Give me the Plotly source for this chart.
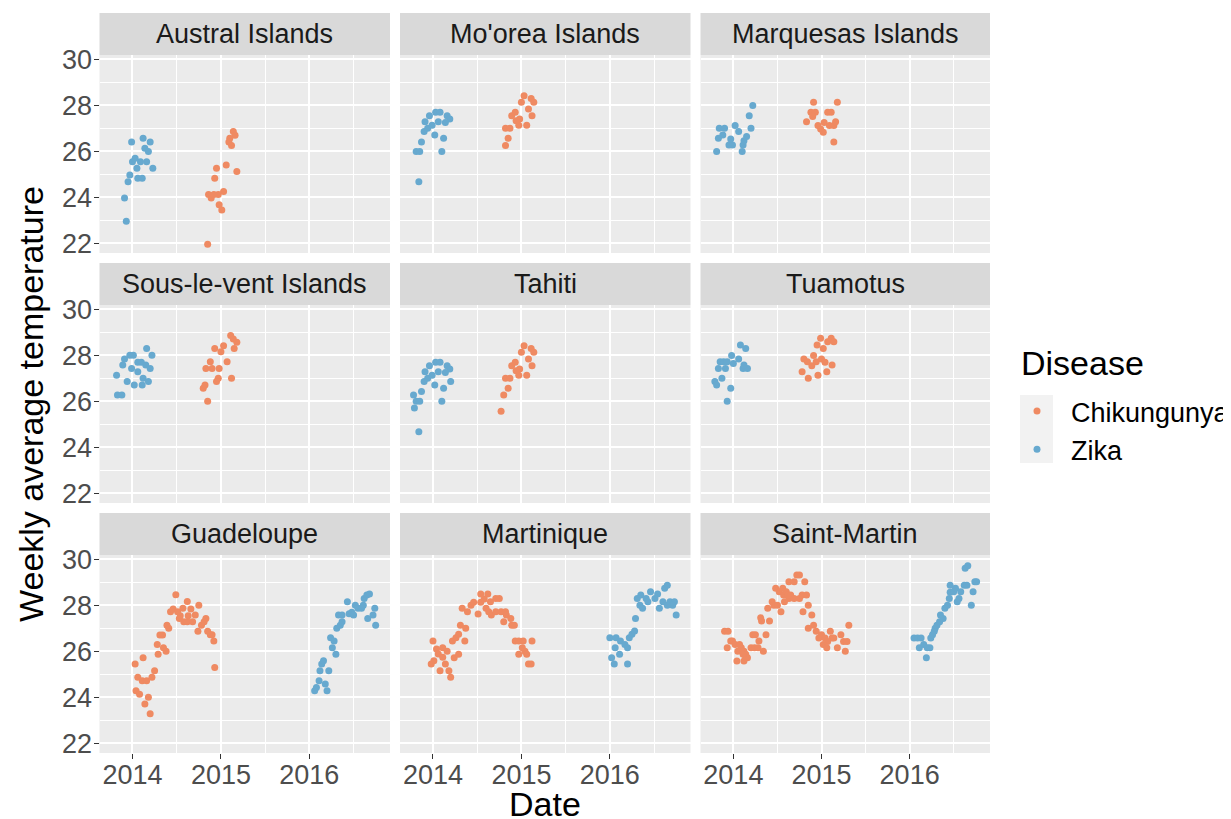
import plotly.graph_objects as go

# ---------------- data ----------------
regions = ["Austral Islands", "Mo'orea Islands", "Marquesas Islands",
           "Sous-le-vent Islands", "Tahiti", "Tuamotus",
           "Guadeloupe", "Martinique", "Saint-Martin"]
diseases = ["Chikungunya", "Zika"]
year_ticks = [2014, 2015, 2016]
temp_ticks = [22, 24, 26, 28, 30]

austral_chik_date = [2015.14, 2015.16, 2015.10, 2015.09, 2015.12, 2014.95, 2015.06, 2015.18, 2014.93, 2015.03, 2014.97, 2014.86, 2014.89, 2014.92, 2014.98, 2015.01, 2014.85]
austral_chik_temp = [26.86, 26.70, 26.57, 26.41, 26.26, 25.26, 25.41, 25.12, 24.83, 24.25, 24.12, 24.12, 23.97, 24.12, 23.68, 23.45, 21.96]
austral_zika_date = [2013.99, 2014.12, 2014.20, 2014.14, 2014.18, 2014.03, 2014.00, 2014.09, 2014.16, 2014.05, 2014.23, 2013.97, 2014.06, 2014.11, 2013.95, 2013.91, 2013.93]
austral_zika_temp = [26.41, 26.57, 26.41, 26.13, 25.99, 25.70, 25.55, 25.55, 25.55, 25.26, 25.26, 24.97, 24.83, 24.83, 24.68, 23.97, 22.96]

moorea_chik_date = [2014.82, 2014.85, 2014.82, 2014.87, 2014.97, 2015.06, 2014.89, 2014.93, 2014.98, 2015.12, 2015.08, 2015.00, 2015.03, 2015.11, 2015.14, 2014.94]
moorea_chik_temp = [26.26, 26.57, 27.00, 27.00, 27.14, 27.14, 27.55, 27.70, 27.41, 27.55, 27.84, 28.13, 28.42, 28.30, 28.13, 27.33]
moorea_zika_date = [2013.84, 2013.81, 2013.85, 2014.10, 2013.87, 2014.02, 2014.12, 2013.90, 2013.94, 2013.99, 2013.91, 2013.96, 2014.03, 2014.08, 2014.06, 2014.16, 2014.19, 2014.14]
moorea_zika_temp = [24.68, 25.99, 25.99, 25.99, 26.41, 26.71, 26.57, 26.86, 27.00, 27.14, 27.29, 27.55, 27.70, 27.70, 27.29, 27.55, 27.41, 27.26]

marquesas_chik_date = [2014.91, 2015.18, 2014.88, 2014.93, 2015.07, 2015.11, 2014.90, 2014.83, 2014.96, 2015.03, 2015.09, 2015.14, 2015.16, 2014.99, 2015.02, 2015.14]
marquesas_chik_temp = [28.13, 28.13, 27.70, 27.70, 27.70, 27.70, 27.52, 27.29, 27.12, 27.26, 27.12, 27.12, 27.29, 26.97, 26.83, 26.41]
marquesas_zika_date = [2013.81, 2014.10, 2013.83, 2013.84, 2013.90, 2013.88, 2013.95, 2013.99, 2014.02, 2014.06, 2013.97, 2014.11, 2014.12, 2014.15, 2014.20, 2014.18, 2014.22]
marquesas_zika_temp = [25.99, 25.99, 26.57, 27.00, 27.00, 26.71, 26.28, 26.28, 27.12, 26.86, 26.54, 26.28, 26.46, 26.65, 27.00, 27.55, 27.99]

sous_chik_date = [2014.85, 2014.80, 2014.82, 2014.95, 2014.97, 2015.12, 2014.83, 2014.90, 2014.98, 2014.88, 2015.07, 2014.93, 2015.00, 2015.03, 2015.15, 2015.11, 2015.14, 2015.18]
sous_chik_temp = [26.00, 26.57, 26.71, 26.86, 27.00, 27.00, 27.43, 27.43, 27.43, 27.72, 27.72, 28.30, 28.16, 28.42, 28.30, 28.86, 28.71, 28.57]
sous_zika_date = [2013.82, 2013.83, 2013.88, 2014.16, 2014.22, 2013.97, 2014.01, 2013.91, 2013.89, 2013.99, 2014.06, 2014.10, 2014.15, 2014.20, 2014.06, 2013.94, 2014.02, 2014.11, 2014.12, 2014.18]
sous_zika_temp = [27.14, 26.28, 26.28, 28.30, 28.01, 28.01, 28.01, 27.84, 27.58, 27.43, 27.70, 27.70, 27.58, 27.43, 27.29, 26.86, 26.71, 26.71, 27.00, 26.86]

tahiti_chik_date = [2014.77, 2014.80, 2014.85, 2014.82, 2014.87, 2014.97, 2015.06, 2014.89, 2014.93, 2014.98, 2015.12, 2015.08, 2015.00, 2015.03, 2015.11, 2015.14, 2014.94]
tahiti_chik_temp = [25.57, 26.28, 26.57, 27.00, 27.00, 27.14, 27.14, 27.55, 27.70, 27.41, 27.55, 27.84, 28.13, 28.42, 28.30, 28.13, 27.33]
tahiti_zika_date = [2013.84, 2013.79, 2013.81, 2013.85, 2013.78, 2013.87, 2014.10, 2014.02, 2014.12, 2014.20, 2013.90, 2013.94, 2013.99, 2013.91, 2013.96, 2014.03, 2014.08, 2014.06, 2014.16, 2014.19, 2014.14]
tahiti_zika_temp = [24.68, 25.71, 26.00, 26.00, 26.28, 26.43, 26.00, 26.71, 26.57, 26.86, 26.86, 27.00, 27.14, 27.29, 27.55, 27.70, 27.70, 27.29, 27.55, 27.41, 27.26]

tuamotus_chik_date = [2014.78, 2014.85, 2014.96, 2015.06, 2014.80, 2014.84, 2014.89, 2014.91, 2014.94, 2015.00, 2015.04, 2015.12, 2015.02, 2014.95, 2014.99, 2015.07, 2015.11, 2015.14]
tuamotus_chik_temp = [27.29, 27.00, 27.14, 27.29, 27.84, 27.72, 27.55, 27.99, 27.72, 27.84, 27.70, 27.58, 28.30, 28.45, 28.74, 28.59, 28.74, 28.59]
tuamotus_zika_date = [2013.93, 2013.97, 2013.79, 2013.81, 2013.87, 2013.83, 2013.91, 2013.85, 2013.89, 2013.93, 2014.00, 2013.98, 2014.06, 2014.08, 2014.14, 2014.11, 2014.16, 2014.12]
tuamotus_zika_temp = [26.00, 26.57, 26.86, 26.71, 27.00, 27.43, 27.43, 27.72, 27.72, 27.72, 27.65, 27.99, 27.84, 28.45, 28.30, 27.43, 27.43, 27.58]

guadeloupe_chik_date = [2014.03, 2014.12, 2014.06, 2014.11, 2014.16, 2014.22, 2014.25, 2014.04, 2014.08, 2014.18, 2014.14, 2014.20, 2014.29, 2014.28, 2014.35, 2014.38, 2014.31, 2014.34, 2014.39, 2014.41, 2014.43, 2014.46, 2014.49, 2014.51, 2014.54, 2014.57, 2014.53, 2014.58, 2014.62, 2014.62, 2014.66, 2014.68, 2014.71, 2014.75, 2014.63, 2014.74, 2014.78, 2014.83, 2014.81, 2014.85, 2014.88, 2014.90, 2014.92, 2014.93]
guadeloupe_chik_temp = [25.45, 25.72, 24.87, 24.72, 24.72, 24.87, 25.16, 24.29, 24.14, 24.00, 23.71, 23.29, 25.87, 26.30, 26.16, 26.01, 26.71, 26.71, 27.14, 27.00, 27.72, 27.84, 28.46, 27.72, 27.55, 27.87, 27.43, 27.29, 27.29, 28.17, 27.84, 27.29, 27.58, 28.01, 27.55, 26.87, 27.14, 27.43, 27.29, 26.87, 26.72, 26.72, 26.45, 25.30]
guadeloupe_zika_date = [2016.06, 2016.08, 2016.11, 2016.18, 2016.20, 2016.12, 2016.14, 2016.16, 2016.22, 2016.30, 2016.26, 2016.24, 2016.28, 2016.31, 2016.35, 2016.37, 2016.33, 2016.37, 2016.43, 2016.45, 2016.48, 2016.50, 2016.52, 2016.55, 2016.59, 2016.61, 2016.62, 2016.65, 2016.68, 2016.74, 2016.66, 2016.72, 2016.75]
guadeloupe_zika_temp = [24.29, 24.43, 24.72, 24.58, 24.29, 25.16, 25.45, 25.59, 25.16, 25.87, 26.16, 26.59, 26.45, 27.00, 27.14, 27.29, 27.58, 27.58, 28.16, 27.64, 27.70, 27.58, 28.01, 27.87, 27.87, 28.01, 28.30, 28.45, 28.49, 27.87, 27.43, 27.58, 27.14]

martinique_chik_date = [2014.00, 2014.04, 2014.11, 2014.16, 2014.06, 2014.11, 2014.01, 2013.98, 2014.14, 2014.18, 2014.20, 2014.08, 2014.24, 2014.29, 2014.22, 2014.26, 2014.29, 2014.36, 2014.31, 2014.37, 2014.33, 2014.39, 2014.43, 2014.46, 2014.51, 2014.54, 2014.58, 2014.54, 2014.62, 2014.60, 2014.63, 2014.65, 2014.71, 2014.75, 2014.66, 2014.71, 2014.77, 2014.82, 2014.83, 2014.80, 2014.88, 2014.89, 2014.92, 2014.93, 2014.97, 2015.02, 2015.12, 2015.01, 2015.04, 2014.97, 2015.06, 2015.08, 2015.11]
martinique_chik_temp = [26.45, 26.10, 26.16, 26.01, 25.88, 25.74, 25.59, 25.45, 25.45, 25.16, 24.87, 25.16, 25.72, 25.87, 26.45, 26.59, 26.74, 26.45, 27.14, 27.00, 27.87, 27.72, 28.01, 28.13, 27.62, 28.13, 28.28, 28.49, 28.49, 27.87, 27.72, 28.16, 28.30, 28.30, 27.58, 27.72, 27.72, 27.72, 27.58, 27.29, 27.43, 27.14, 27.14, 26.45, 26.45, 26.45, 26.45, 26.16, 26.01, 25.87, 25.87, 25.45, 25.45]
martinique_zika_date = [2016.00, 2016.07, 2016.12, 2016.17, 2016.20, 2016.06, 2016.11, 2016.02, 2016.05, 2016.20, 2016.22, 2016.25, 2016.28, 2016.29, 2016.31, 2016.35, 2016.34, 2016.37, 2016.41, 2016.43, 2016.46, 2016.51, 2016.56, 2016.54, 2016.60, 2016.62, 2016.65, 2016.68, 2016.73, 2016.75, 2016.71, 2016.65]
martinique_zika_temp = [26.59, 26.59, 26.45, 26.30, 26.16, 26.16, 25.87, 25.72, 25.45, 25.45, 26.59, 26.74, 26.88, 27.43, 28.30, 28.45, 28.01, 27.87, 28.30, 28.16, 28.59, 28.30, 27.87, 28.49, 28.16, 28.74, 28.88, 28.16, 28.16, 27.58, 28.01, 28.01]

stmartin_chik_date = [2013.90, 2013.94, 2013.93, 2013.97, 2013.99, 2014.02, 2014.07, 2014.09, 2014.12, 2014.14, 2014.16, 2014.04, 2014.12, 2014.14, 2014.05, 2014.11, 2014.20, 2014.24, 2014.28, 2014.34, 2014.29, 2014.22, 2014.25, 2014.37, 2014.32, 2014.31, 2014.41, 2014.39, 2014.44, 2014.46, 2014.50, 2014.54, 2014.48, 2014.52, 2014.56, 2014.57, 2014.60, 2014.62, 2014.63, 2014.58, 2014.65, 2014.69, 2014.75, 2014.78, 2014.83, 2014.63, 2014.69, 2014.72, 2014.75, 2014.81, 2014.85, 2014.79, 2014.89, 2014.85, 2014.91, 2014.94, 2014.97, 2015.00, 2015.04, 2015.10, 2015.12, 2015.07, 2015.02, 2015.06, 2015.18, 2015.22, 2015.25, 2015.29, 2015.27, 2015.31, 2015.14]
stmartin_chik_temp = [26.87, 26.87, 26.16, 26.45, 26.45, 26.30, 26.30, 26.16, 26.01, 25.87, 25.72, 25.58, 25.58, 25.72, 26.01, 25.87, 26.16, 26.16, 26.16, 26.01, 26.45, 26.72, 26.72, 26.72, 27.32, 27.46, 27.32, 27.87, 28.16, 28.01, 28.01, 27.72, 28.74, 28.59, 28.74, 28.45, 28.59, 28.45, 28.30, 28.16, 28.45, 28.30, 28.30, 28.45, 28.45, 29.03, 29.03, 29.32, 29.32, 29.03, 28.01, 27.72, 27.58, 27.01, 27.14, 26.87, 26.58, 26.72, 26.58, 26.87, 26.58, 26.43, 26.30, 26.16, 26.16, 26.72, 26.43, 26.43, 26.01, 27.14, 26.58]
stmartin_zika_date = [2016.05, 2016.09, 2016.13, 2016.11, 2016.16, 2016.20, 2016.19, 2016.23, 2016.24, 2016.26, 2016.28, 2016.29, 2016.31, 2016.34, 2016.35, 2016.38, 2016.40, 2016.43, 2016.45, 2016.46, 2016.46, 2016.50, 2016.52, 2016.54, 2016.56, 2016.58, 2016.62, 2016.65, 2016.72, 2016.74, 2016.76, 2016.70, 2016.63, 2016.66]
stmartin_zika_temp = [26.58, 26.58, 26.58, 26.16, 26.30, 26.16, 25.72, 26.16, 26.58, 26.72, 26.87, 27.01, 27.14, 27.29, 27.58, 27.43, 27.87, 28.01, 28.30, 28.57, 28.88, 28.59, 28.74, 28.16, 28.30, 28.59, 28.88, 28.88, 28.59, 29.03, 29.03, 28.01, 29.61, 29.72]

panel_series = [
    (austral_chik_date, austral_chik_temp, austral_zika_date, austral_zika_temp),
    (moorea_chik_date, moorea_chik_temp, moorea_zika_date, moorea_zika_temp),
    (marquesas_chik_date, marquesas_chik_temp, marquesas_zika_date, marquesas_zika_temp),
    (sous_chik_date, sous_chik_temp, sous_zika_date, sous_zika_temp),
    (tahiti_chik_date, tahiti_chik_temp, tahiti_zika_date, tahiti_zika_temp),
    (tuamotus_chik_date, tuamotus_chik_temp, tuamotus_zika_date, tuamotus_zika_temp),
    (guadeloupe_chik_date, guadeloupe_chik_temp, guadeloupe_zika_date, guadeloupe_zika_temp),
    (martinique_chik_date, martinique_chik_temp, martinique_zika_date, martinique_zika_temp),
    (stmartin_chik_date, stmartin_chik_temp, stmartin_zika_date, stmartin_zika_temp),
]

# ---------------- styling ----------------
W, H = 1231, 819
PAGE_OFFSET = 8  # default body margin of the html page
FONT = "Liberation Sans, Arial, sans-serif"
COLORS = {"Chikungunya": "#EF8A62", "Zika": "#67A9CF"}
col_px = [(99.5, 390), (400, 690.5), (700.5, 990)]
row_plot_px = [(55, 253), (305, 503), (555, 753)]
row_strip_px = [(13, 55), (263, 305), (513, 555)]
X_RANGE = [2013.627, 2016.912]
Y_RANGE = [21.58, 30.19]


def px_x(p):
    return (p - PAGE_OFFSET) / W


def px_y(p):
    return 1 - (p - PAGE_OFFSET) / H


tick_common = dict(
    ticklen=5, tickwidth=1.1, tickcolor="#333333",
    tickfont=dict(family=FONT, size=27, color="#4D4D4D"),
    showgrid=True, gridcolor="white", gridwidth=2,
    zeroline=False, showline=False, fixedrange=True, automargin=False,
)

fig = go.Figure()
layout_axes = {}
shapes = []
annotations = []

for i, region in enumerate(regions):
    r, c = divmod(i, 3)
    suffix = "" if i == 0 else str(i + 1)
    cd, ct, zd, zt = panel_series[i]
    for name, xs, ys in (("Chikungunya", cd, ct), ("Zika", zd, zt)):
        fig.add_trace(go.Scatter(
            x=xs, y=ys, mode="markers", name=name, legendgroup=name,
            showlegend=(i == 0),
            marker=dict(color=COLORS[name], size=7, line=dict(width=0)),
            xaxis="x" + suffix, yaxis="y" + suffix,
        ))
    bottom = (r == 2)
    left = (c == 0)
    layout_axes["xaxis" + suffix] = dict(
        domain=[px_x(col_px[c][0]), px_x(col_px[c][1])],
        anchor="y" + suffix, range=X_RANGE,
        tickmode="array", tickvals=year_ticks,
        ticktext=[str(v) for v in year_ticks],
        showticklabels=bottom, ticks="outside" if bottom else "",
        ticklabelstandoff=-7,
        minor=dict(tickvals=[v + 0.5 for v in year_ticks], showgrid=True,
                   gridcolor="white", gridwidth=1, ticks=""),
        **tick_common,
    )
    layout_axes["yaxis" + suffix] = dict(
        domain=[px_y(row_plot_px[r][1]), px_y(row_plot_px[r][0])],
        anchor="x" + suffix, range=Y_RANGE,
        tickmode="array", tickvals=temp_ticks,
        ticktext=[str(v) for v in temp_ticks],
        showticklabels=left, ticks="outside" if left else "",
        ticklabelstandoff=-4,
        minor=dict(tickvals=[v + 1 for v in temp_ticks[:-1]], showgrid=True,
                   gridcolor="white", gridwidth=1, ticks=""),
        **tick_common,
    )
    # facet strip
    shapes.append(dict(
        type="rect", xref="paper", yref="paper",
        x0=px_x(col_px[c][0]), x1=px_x(col_px[c][1]),
        y0=px_y(row_strip_px[r][1]), y1=px_y(row_strip_px[r][0]),
        fillcolor="#D9D9D9", line=dict(width=0), layer="below",
    ))
    annotations.append(dict(
        text=region, xref="paper", yref="paper", showarrow=False,
        x=px_x((col_px[c][0] + col_px[c][1]) / 2),
        y=px_y((row_strip_px[r][0] + row_strip_px[r][1]) / 2),
        xanchor="center", yanchor="middle",
        font=dict(family=FONT, size=27, color="#1A1A1A"),
    ))

# legend key background
shapes.append(dict(
    type="rect", xref="paper", yref="paper",
    x0=px_x(1020), x1=px_x(1053), y0=px_y(463), y1=px_y(395),
    fillcolor="#F2F2F2", line=dict(width=0), layer="below",
))

# legend title
annotations.append(dict(
    text="Disease", xref="paper", yref="paper",
    x=px_x(1019), y=px_y(363), showarrow=False,
    xanchor="left", yanchor="middle",
    font=dict(family=FONT, size=34, color="black"),
))

# axis titles
annotations.append(dict(
    text="Weekly average temperature", xref="paper", yref="paper",
    x=px_x(31), y=px_y(404), showarrow=False, textangle=-90,
    xanchor="center", yanchor="middle",
    font=dict(family=FONT, size=34, color="black"),
))
annotations.append(dict(
    text="Date", xref="paper", yref="paper",
    x=px_x(545), y=px_y(804), showarrow=False,
    xanchor="center", yanchor="middle",
    font=dict(family=FONT, size=34, color="black"),
))

fig.update_layout(
    template="none",
    width=W, height=H,
    margin=dict(l=0, r=0, t=0, b=0, pad=0, autoexpand=False),
    paper_bgcolor="white", plot_bgcolor="#EBEBEB",
    font=dict(family=FONT, color="black"),
    showlegend=True,
    legend=dict(
        font=dict(family=FONT, size=27, color="black"),
        x=px_x(1003), y=px_y(387), xanchor="left", yanchor="top",
        bgcolor="rgba(0,0,0,0)", borderwidth=0,
        itemsizing="trace", tracegroupgap=0, itemwidth=58,
    ),
    shapes=shapes,
    annotations=annotations,
    hovermode=False,
    **layout_axes,
)

fig.write_html("out.html")
